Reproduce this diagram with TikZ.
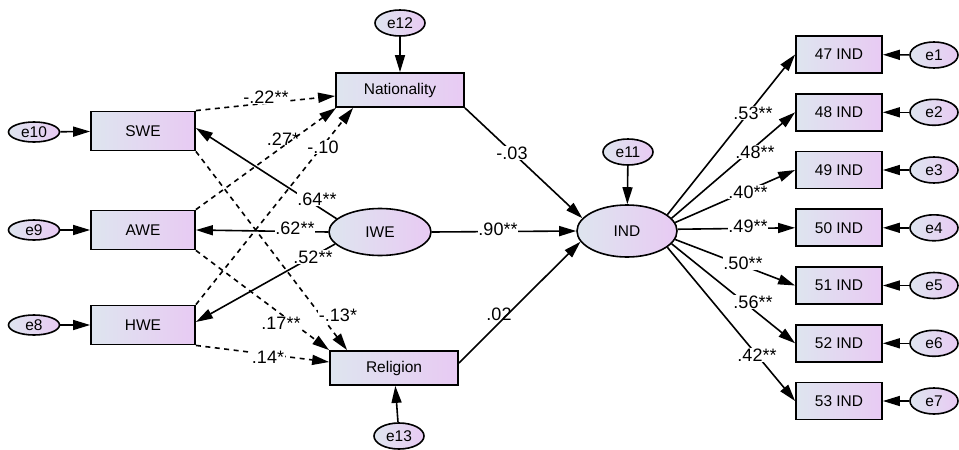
\documentclass[tikz,border=0pt]{standalone}
\usepackage{fontspec}
\setmainfont{Liberation Sans}
\usepackage{tikz}
\usetikzlibrary{shapes.geometric, arrows.meta, positioning, calc}

\definecolor{boxleft}{RGB}{222,229,239}
\definecolor{boxright}{RGB}{232,202,243}

\begin{document}
\begin{tikzpicture}[x=1pt, y=-1pt,
    >={Triangle[length=17pt,width=10pt]},
    varbox/.style={draw, line width=1.8pt, left color=boxleft, right color=boxright,
      minimum height=37pt, inner sep=0pt, font=\fontsize{15.5pt}{18pt}\selectfont},
    latent/.style={draw, ellipse, line width=1.6pt, left color=boxleft, right color=boxright,
      inner sep=0pt, font=\fontsize{15.5pt}{18pt}\selectfont},
    errvar/.style={latent, minimum width=50pt, minimum height=26pt},
    path/.style={->, line width=1.6pt},
    dpath/.style={->, line width=1.6pt, dash pattern=on 5pt off 4.5pt},
    coef/.style={fill=white, inner sep=0.5pt, font=\fontsize{18pt}{20pt}\selectfont}]

\useasboundingbox (0,0) rectangle (959,450);

% Trabajo y etica (izquierda)
\node[varbox, minimum width=104pt, minimum height=39pt] (swe) at (143,131) {SWE};
\node[varbox, minimum width=104pt, minimum height=39pt] (awe) at (143,230) {AWE};
\node[varbox, minimum width=104pt, minimum height=39pt] (hwe) at (143,325) {HWE};
\node[errvar, minimum width=51pt, minimum height=20pt] (e10) at (34,132) {e10};
\node[errvar, minimum width=51pt, minimum height=20pt] (e9) at (34,230) {e9};
\node[errvar, minimum width=51pt, minimum height=20pt] (e8) at (34,325) {e8};
\draw[path] (e10) -- (swe);
\draw[path] (e9) -- (awe);
\draw[path] (e8) -- (hwe);

% Mediadores
\node[varbox, minimum width=128pt, minimum height=34pt] (nat) at (400,90) {Nationality};
\node[varbox, minimum width=128pt, minimum height=34pt] (rel) at (394,368) {Religion};
\node[errvar] (e12) at (400,23) {e12};
\node[errvar] (e13) at (399,436) {e13};
\draw[path] (e12) -- (nat);
\draw[path] (e13) -- (rel);

% Latentes
\node[latent, minimum width=102pt, minimum height=47pt] (iwe) at (380,232) {IWE};
\node[latent, minimum width=100pt, minimum height=52pt] (ind) at (627,231) {IND};
\node[errvar] (e11) at (628,152) {e11};
\draw[path] (e11) -- (ind);

% Caminos con lineas discontinuas
\draw[dpath] (swe.north east) -- ([yshift=-6pt]nat.west) node[coef] at (266,97) {-.22**};
\draw[dpath] (awe.north east) -- ([xshift=1pt]nat.south west) node[coef, fill=none] at (283,139) {.27*};
\draw[dpath] (hwe.north east) -- ([xshift=18pt]nat.south west) node[coef] at (323,147) {-.10};
\draw[dpath] (swe.south east) -- ([xshift=18pt]rel.north west) node[coef] at (338,315) {-.13*};
\draw[dpath] (awe.south east) -- (rel.north west) node[coef] at (281,323) {.17**};
\draw[dpath] (hwe.south east) -- ([yshift=6pt]rel.west) node[coef] at (268,357) {.14*};

% Caminos desde IWE
\draw[path] (iwe.163) -- ([yshift=3pt]swe.east) node[coef] at (317,199) {.64**};
\draw[path] (iwe.west) -- (awe.east) node[coef] at (295,228) {.62**};
\draw[path] (iwe.195) -- ([yshift=3pt]hwe.east) node[coef] at (313,257) {.52**};
\draw[path] (iwe.east) -- (ind.west) node[coef] at (498,229) {.90**};
\draw[path] (nat.south east) -- (ind.164) node[coef] at (512,153) {-.03};
\draw[path] ([yshift=5pt]rel.east) -- (ind.193) node[coef, fill=none] at (499,314) {.02};

% Indicadores de IND
\node[varbox, minimum width=86pt] (i47) at (839,54.5) {47 IND};
\node[varbox, minimum width=86pt] (i48) at (839,112.3) {48 IND};
\node[varbox, minimum width=86pt] (i49) at (839,170) {49 IND};
\node[varbox, minimum width=86pt] (i50) at (839,227.8) {50 IND};
\node[varbox, minimum width=86pt] (i51) at (839,285.5) {51 IND};
\node[varbox, minimum width=86pt] (i52) at (839,343.3) {52 IND};
\node[varbox, minimum width=86pt] (i53) at (839,401) {53 IND};
\node[errvar, minimum width=48pt] (e1) at (934,55) {e1};
\node[errvar, minimum width=48pt] (e2) at (934,112.3) {e2};
\node[errvar, minimum width=48pt] (e3) at (934,170) {e3};
\node[errvar, minimum width=48pt] (e4) at (934,227.8) {e4};
\node[errvar, minimum width=48pt] (e5) at (934,285.5) {e5};
\node[errvar, minimum width=48pt] (e6) at (934,343.3) {e6};
\node[errvar, minimum width=48pt] (e7) at (934,401) {e7};
\draw[path] (e1) -- (i47);
\draw[path] (e2) -- (i48);
\draw[path] (e3) -- (i49);
\draw[path] (e4) -- (i50);
\draw[path] (e5) -- (i51);
\draw[path] (e6) -- (i52);
\draw[path] (e7) -- (i53);

\draw[path] (ind.22) -- (i47.west) node[coef] at (753,113) {.53**};
\draw[path] (ind.16) -- (i48.west) node[coef] at (755,152) {.48**};
\draw[path] (ind.10) -- (i49.west) node[coef] at (748,192) {.40**};
\draw[path] (ind.2) -- (i50.west) node[coef] at (748,226) {.49**};
\draw[path] (ind.-10) -- (i51.west) node[coef] at (743,263) {.50**};
\draw[path] (ind.-16) -- (i52.west) node[coef] at (753,302) {.56**};
\draw[path] (ind.-22) -- (i53.west) node[coef] at (757,355) {.42**};

\end{tikzpicture}
\end{document}
